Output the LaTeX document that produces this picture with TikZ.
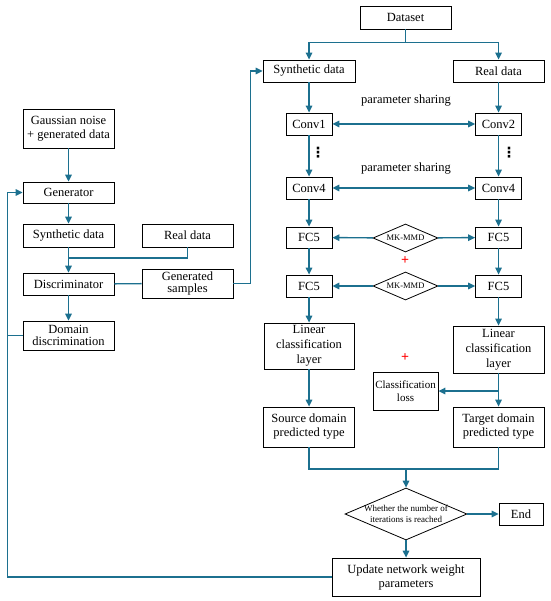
\documentclass[tikz,border=0pt]{standalone}
\usepackage{fontspec}
\setmainfont{Liberation Serif}
\newfontfamily\symfont{DejaVu Sans}
\usepackage{tikz}
\usetikzlibrary{arrows.meta,shapes.geometric}
\definecolor{flow}{RGB}{28,112,143}

\begin{document}
\begin{tikzpicture}[x=1pt,y=-1pt,>={Triangle[length=7pt,width=6.5pt]},
  box/.style={draw,line width=0.8pt,inner sep=1pt,align=center,font=\fontsize{12.5}{14}\selectfont,minimum width=91pt,minimum height=23pt},
  small/.style={box,minimum width=46pt,minimum height=22pt},
  mmd/.style={draw,diamond,line width=0.8pt,inner sep=0pt,shape aspect=2.3,minimum width=65pt,minimum height=28pt,font=\fontsize{8.5}{9}\selectfont},
  flowline/.style={draw=flow,line width=1.4pt},
  vdot/.style={font=\symfont\bfseries\fontsize{14}{14}\selectfont,inner sep=0pt},
  plus/.style={text=red,font=\fontsize{14}{14}\selectfont\bfseries}]
  \useasboundingbox (0,0) rectangle (550,601);
  % GAN part
  \node[box,minimum height=39pt] (gauss) at (68.5,128.5) {Gaussian noise\\+ generated data};
  \node[box,minimum height=21pt] (gen) at (68.5,192.5) {Generator};
  \node[box] (synL) at (68.5,235.5) {Synthetic data};
  \node[box] (realL) at (187.5,235.5) {Real data};
  \node[box,minimum height=22pt] (disc) at (68.5,284) {Discriminator};
  \node[box,minimum height=29pt,font=\fontsize{12.5}{12}\selectfont] (gens) at (187.5,283.5) {Generated\\samples};
  \node[box,minimum height=29pt,font=\fontsize{12.5}{12}\selectfont] (domd) at (68.5,335.5) {Domain\\discrimination};
  % transfer network
  \node[box] (dataset) at (405.5,17.5) {Dataset};
  \node[box,minimum width=92pt,minimum height=22pt] (synR) at (309,71) {Synthetic data};
  \node[box,minimum height=22pt] (realR) at (498.5,71) {Real data};
  \node[small] (conv1) at (309,124) {Conv1};
  \node[small] (conv2) at (498.5,124) {Conv2};
  \node[small] (conv4L) at (309,188) {Conv4};
  \node[small] (conv4R) at (498.5,188) {Conv4};
  \node[small,minimum height=21pt] (fcaL) at (309,237.5) {FC5};
  \node[small,minimum height=21pt] (fcaR) at (498.5,237.5) {FC5};
  \node[mmd] (mmd1) at (405.5,238) {MK-MMD};
  \node[small] (fcbL) at (309,286) {FC5};
  \node[small] (fcbR) at (498.5,286) {FC5};
  \node[mmd] (mmd2) at (405.5,286) {MK-MMD};
  \node[font=\fontsize{12.5}{14}\selectfont] (share1) at (406,101) {parameter sharing};
  \node[font=\fontsize{12.5}{14}\selectfont] (share2) at (406,169) {parameter sharing};
  \node[vdot] (dotsL) at (318,153) {⋮};
  \node[vdot] (dotsR) at (509,153) {⋮};
  \node[plus] (plus1) at (405,261) {+};
  \node[plus] (plus2) at (405,358) {+};
  \node[box,minimum width=90pt,minimum height=46pt,font=\fontsize{12.5}{15}\selectfont] (linL) at (309,346) {Linear\\classification\\layer};
  \node[box,minimum height=47pt,font=\fontsize{12.5}{15}\selectfont] (linR) at (498.5,349.5) {Linear\\classification\\layer};
  \node[box,minimum width=65pt,minimum height=38pt,font=\fontsize{11}{13}\selectfont] (closs) at (405.5,391) {Classification\\loss};
  \node[box,minimum height=40pt] (srcT) at (309,427) {Source domain\\predicted type};
  \node[box,minimum height=40pt] (tgtT) at (498.5,427) {Target domain\\predicted type};
  \node[draw,diamond,line width=0.8pt,minimum width=122pt,minimum height=52pt,inner sep=0pt,
    label={[align=center,font=\fontsize{9}{11}\selectfont]center:Whether the number of\\iterations is reached}] (decide) at (406,514) {};
  \node[box,minimum width=44pt,minimum height=22pt] (endn) at (521,514) {End};
  \node[box,minimum width=148pt,minimum height=38pt] (upd) at (406,577) {Update network weight\\parameters};
  \coordinate (jn) at (68.5,258);
  \coordinate (split) at (405.5,42.7);
  \coordinate (mrg) at (406,469);
  \coordinate (fbT) at (7.5,192.5);
  \coordinate (tap) at (498.5,391);
  % connectors
  \draw[flowline,->] (gauss) -- (gen);
  \draw[flowline,->] (gen) -- (synL);
  \draw[flowline,->] (synL) -- (disc);
  \draw[flowline] (realL) |- (jn);
  \draw[flowline,->] (disc) -- (domd);
  \draw[flowline] (disc) -- (gens);
  \draw[flowline,->] (gens.east) -- ++(17,0) |- (synR.west);
  \draw[flowline] (domd.west) -- (domd.west -| fbT);
  \draw[flowline,->] (upd.west) -| (fbT) -- (gen.west);
  \draw[flowline] (dataset) -- (split);
  \draw[flowline,->] (split) -| (synR);
  \draw[flowline,->] (split) -| (realR);
  \draw[flowline,->] (synR) -- (conv1);
  \draw[flowline,->] (realR) -- (conv2);
  \draw[flowline,<->] (conv1) -- (conv2);
  \draw[flowline,->] (conv1) -- (conv4L);
  \draw[flowline,->] (conv2) -- (conv4R);
  \draw[flowline,<->] (conv4L) -- (conv4R);
  \draw[flowline,->] (conv4L) -- (fcaL);
  \draw[flowline,->] (conv4R) -- (fcaR);
  \draw[flowline,->] (mmd1) -- (fcaL);
  \draw[flowline,->] (mmd1) -- (fcaR);
  \draw[flowline,->] (fcaL) -- (fcbL);
  \draw[flowline,->] (fcaR) -- (fcbR);
  \draw[flowline,->] (mmd2) -- (fcbL);
  \draw[flowline,->] (mmd2) -- (fcbR);
  \draw[flowline,->] (fcbL) -- (linL);
  \draw[flowline,->] (fcbR) -- (linR);
  \draw[flowline,->] (linL) -- (srcT);
  \draw[flowline,->] (linR) -- (tgtT);
  \draw[flowline,->] (tap) -- (closs);
  \draw[flowline] (srcT) |- (mrg) -| (tgtT);
  \draw[flowline,->] (mrg) -- (decide);
  \draw[flowline,->] (decide) -- (endn);
  \draw[flowline,->] (decide) -- (upd);
\end{tikzpicture}
\end{document}
